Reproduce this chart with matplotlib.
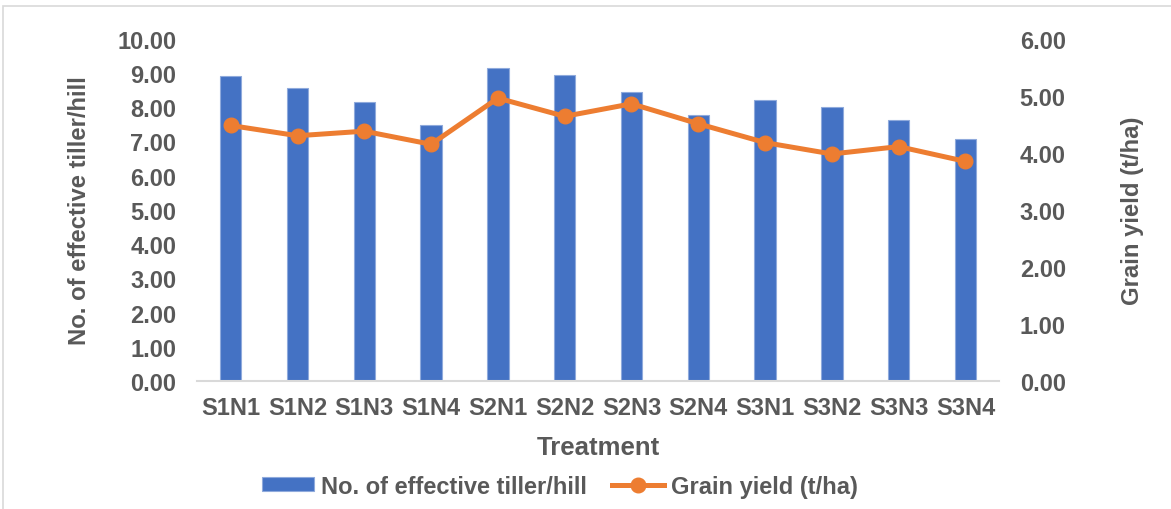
import matplotlib.pyplot as plt
from matplotlib.patches import Rectangle
import numpy as np

# Data
treatments = ['S1N1', 'S1N2', 'S1N3', 'S1N4', 'S2N1', 'S2N2',
              'S2N3', 'S2N4', 'S3N1', 'S3N2', 'S3N3', 'S3N4']
tillers = [8.91, 8.57, 8.14, 7.49, 9.14, 8.94, 8.44, 7.78, 8.21, 8.00, 7.63, 7.08]
grain_yield = [4.48, 4.30, 4.38, 4.15, 4.96, 4.64, 4.86, 4.51, 4.18, 3.98, 4.11, 3.85]

plt.rcParams['font.family'] = ['Liberation Sans', 'DejaVu Sans']
plt.rcParams['font.weight'] = 'bold'
plt.rcParams['axes.labelweight'] = 'bold'
grey = '#595959'
blue = '#4472C4'
orange = '#ED7D31'

fig = plt.figure(figsize=(11.71, 5.10), dpi=100)
ax = fig.add_axes([0.1685, 0.251, 0.6845, 0.671])
ax2 = ax.twinx()

# light frame around the chart
fig.patches.append(Rectangle((3 / 1171, -0.05), 1.1, 1 - 7 / 510 + 0.05,
                             transform=fig.transFigure, fill=False,
                             edgecolor='#d9d9d9', linewidth=1.2))

x = np.arange(len(treatments))
bars = ax.bar(x, tillers, width=0.32, color=blue, edgecolor='#8faadc',
              linewidth=0.8, label='No. of effective tiller/hill', zorder=2)
line, = ax2.plot(x, grain_yield, color=orange, linewidth=3.6, marker='o',
                 markersize=10.5, label='Grain yield (t/ha)', zorder=3)

ax.set_xlim(-0.5, len(treatments) - 0.5)
ax.set_ylim(0, 10)
ax.set_yticks(np.arange(0, 11, 1))
ax.set_yticklabels([f'{v:.2f}' for v in np.arange(0, 11, 1)])
ax2.set_ylim(0, 6)
ax2.set_yticks(np.arange(0, 7, 1))
ax2.set_yticklabels([f'{v:.2f}' for v in np.arange(0, 7, 1)])

ax.set_xticks(x)
ax.set_xticklabels(treatments)

for a in (ax, ax2):
    for s in a.spines.values():
        s.set_visible(False)
    a.tick_params(length=0, colors=grey, labelsize=17)
ax.spines['bottom'].set_visible(True)
ax.spines['bottom'].set_color('#d9d9d9')
ax.spines['bottom'].set_linewidth(1.5)
ax.tick_params(axis='y', pad=15)
ax2.tick_params(axis='y', pad=15)
ax.tick_params(axis='x', pad=11)

ax.set_xlabel('Treatment', fontsize=18.5, color=grey, labelpad=11)
ax.set_ylabel('No. of effective tiller/hill', fontsize=17.2, color=grey, labelpad=19)
ax2.set_ylabel('Grain yield (t/ha)', fontsize=17.2, color=grey, labelpad=40)

leg = fig.legend(handles=[bars, line], loc='center', bbox_to_anchor=(0.478, 0.045),
                 ncol=2, frameon=False, prop={'weight': 'bold', 'size': 17},
                 handlelength=2.2, handleheight=0.55, columnspacing=1.05,
                 handletextpad=0.3)
for t in leg.get_texts():
    t.set_color(grey)
    t.set_fontweight('bold')

fig.savefig('out.png', dpi=100)
